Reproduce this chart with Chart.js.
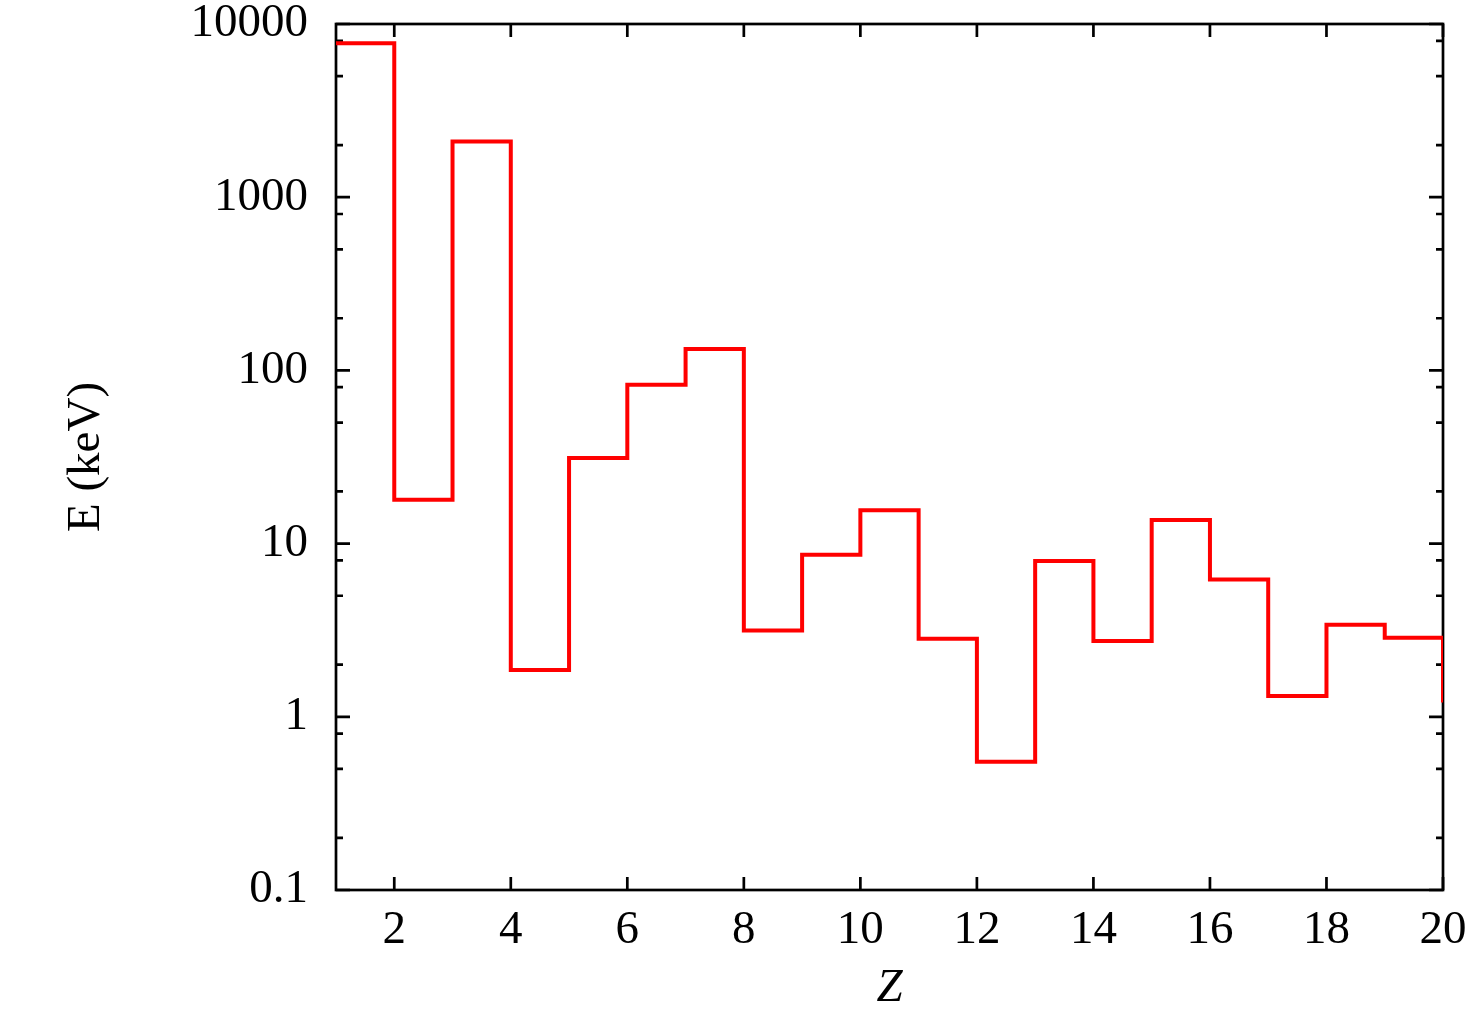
<!DOCTYPE html>
<html>
<head>
<meta charset="utf-8">
<title>E vs Z</title>
<script src="https://cdn.jsdelivr.net/npm/chart.js@4.4.1/dist/chart.umd.min.js"></script>
<style>
  html, body { margin: 0; padding: 0; background: #fff; }
  #wrap { width: 1471px; height: 1017px; position: relative; }
</style>
</head>
<body>
<div id="wrap"><canvas id="E-Chart"></canvas></div>
<script>
// values, one step per Z
var zValues = [1, 2, 3, 4, 5, 6, 7, 8, 9, 10, 11, 12, 13, 14, 15, 16, 17, 18, 19, 20];
var energyKeV = [7745, 17.9, 2096, 1.86, 31.2, 82.7, 133, 3.15, 8.63, 15.6,
                 2.82, 0.55, 7.94, 2.74, 13.7, 6.2, 1.32, 3.40, 2.86, 1.21];

var xTicks = [2, 4, 6, 8, 10, 12, 14, 16, 18, 20];
var yTicks = [0.1, 1, 10, 100, 1000, 10000];
var yTickLabels = ['0.1', '1', '10', '100', '1000', '10000'];
var yMinorTicks = [0.2, 0.5, 0.8, 2, 5, 8, 20, 50, 80, 200, 500, 800, 2000, 5000, 8000];

var serif = "'Liberation Serif', 'Times New Roman', serif";

// frame with inward ticks on all four sides (gnuplot look)
var frameTicks = {
	id: 'frameTicks',
	beforeDatasetsDraw: function(chart) {
		var ctx = chart.ctx;
		var a = chart.chartArea;
		var x = chart.scales.x;
		var y = chart.scales.y;
		ctx.save();
		ctx.strokeStyle = '#000';
		ctx.lineWidth = 2.7;
		ctx.beginPath();
		xTicks.forEach(function(v) {
			var px = x.getPixelForValue(v);
			ctx.moveTo(px, a.bottom); ctx.lineTo(px, a.bottom - 13);
			ctx.moveTo(px, a.top); ctx.lineTo(px, a.top + 13);
		});
		yTicks.forEach(function(v) {
			var py = y.getPixelForValue(v);
			ctx.moveTo(a.left, py); ctx.lineTo(a.left + 14, py);
			ctx.moveTo(a.right, py); ctx.lineTo(a.right - 14, py);
		});
		yMinorTicks.forEach(function(v) {
			var py = y.getPixelForValue(v);
			ctx.moveTo(a.left, py); ctx.lineTo(a.left + 7, py);
			ctx.moveTo(a.right, py); ctx.lineTo(a.right - 7, py);
		});
		ctx.stroke();
		ctx.strokeRect(a.left, a.top, a.right - a.left, a.bottom - a.top);
		ctx.restore();
	}
};

var points = zValues.map(function(z, i) { return {x: z, y: energyKeV[i]}; });

var config = {
	type: 'line',
	data: {
		datasets: [{
			data: points,
			borderColor: '#ff0000',
			borderWidth: 4,
			pointRadius: 0,
			fill: false,
			stepped: 'before',
			borderCapStyle: 'butt',
			borderJoinStyle: 'miter'
		}]
	},
	options: {
		responsive: true,
		maintainAspectRatio: false,
		animation: false,
		layout: { padding: { left: 0, right: 28, top: 24, bottom: 0 } },
		plugins: { legend: { display: false }, tooltip: { enabled: false } },
		scales: {
			x: {
				type: 'linear',
				min: 1,
				max: 20,
				grid: { display: false, drawTicks: false },
				border: { display: false },
				afterBuildTicks: function(scale) {
					scale.ticks = xTicks.map(function(v) { return {value: v}; });
				},
				afterFit: function(scale) {
					scale.height = 127;
					scale.paddingLeft = 0;
					scale.paddingRight = 0;
				},
				ticks: {
					autoSkip: false,
					maxRotation: 0,
					padding: 12,
					color: '#000',
					font: { family: serif, size: 47 },
					callback: function(v) { return String(v); }
				},
				title: {
					display: true,
					text: 'Z',
					color: '#000',
					padding: { top: 0, bottom: 0 },
					font: { family: serif, size: 47, style: 'italic' }
				}
			},
			y: {
				type: 'logarithmic',
				min: 0.1,
				max: 10000,
				grid: { display: false, drawTicks: false },
				border: { display: false },
				afterBuildTicks: function(scale) {
					scale.ticks = yTicks.map(function(v) { return {value: v}; });
				},
				afterFit: function(scale) {
					scale.width = 336;
					scale.paddingTop = 0;
					scale.paddingBottom = 0;
				},
				ticks: {
					autoSkip: false,
					padding: 28,
					color: '#000',
					font: { family: serif, size: 47 },
					callback: function(v, i) { return yTickLabels[i]; }
				},
				title: {
					display: true,
					text: 'E (keV)',
					color: '#000',
					padding: { top: 58, bottom: 0 },
					font: { family: serif, size: 47 }
				}
			}
		}
	},
	plugins: [frameTicks]
};

var myChart = new Chart('E-Chart', config);
</script>
</body>
</html>
